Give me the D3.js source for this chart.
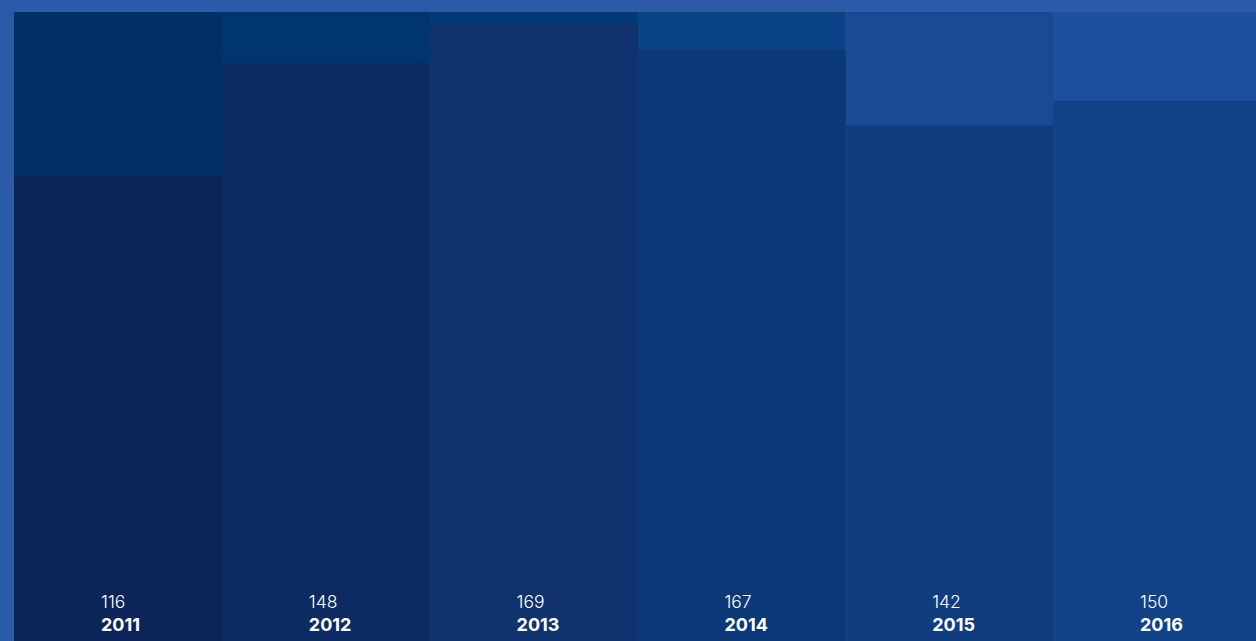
<!DOCTYPE html>
<html>
<head>
<meta charset="utf-8">
<script src="https://cdn.jsdelivr.net/npm/d3@7"></script>
<style>
    html, body { margin: 0; padding: 0; background: #2a5aa8; overflow: hidden; }
    svg { display: block; }
    text { font-family: Inter, "Noto Sans", sans-serif; fill: #fff; }
</style>
</head>
<body>
<svg id="chart" width="1256" height="641"></svg>
<script>
// Data
const years = ['2011', '2012', '2013', '2014', '2015', '2016'];
const totals = [116, 148, 169, 167, 142, 150];
// share of the column filled by the darker lower block (%)
const shares = [73.8, 91.9, 98.1, 94.0, 81.9, 85.9];
const topColors = ['#013065', '#003670', '#023a78', '#0a4286', '#1a4b92', '#1b519c'];
const baseColors = ['#0b2558', '#0b2b62', '#10336d', '#0b3877', '#0f3d80', '#124389'];

// Layout
const HEIGHT = 641;
const COLUMN_W = 207.8;   // last column runs off the right edge
const margin = { top: 12, bottom: 0, left: 14 };

const svg = d3.select('#chart');

const x = d3.scaleBand()
    .domain(years)
    .range([margin.left, margin.left + COLUMN_W * years.length])
    .padding(0);

const y = d3.scaleLinear()
    .domain([0, 100])
    .range([HEIGHT - margin.bottom, margin.top]);

const rows = years.map((year, i) => ({
    year,
    total: totals[i],
    share: shares[i],
    top: topColors[i],
    base: baseColors[i]
}));

// Full-height column (lighter top part)
svg.append('g')
    .attr('class', 'columns')
    .selectAll('rect')
    .data(rows)
    .enter().append('rect')
        .attr('x', (d) => x(d.year))
        .attr('y', y(100))
        .attr('width', x.bandwidth() + 0.5)
        .attr('height', y(0) - y(100))
        .attr('fill', (d) => d.top);

// Lower block
svg.append('g')
    .attr('class', 'bars')
    .selectAll('rect')
    .data(rows)
    .enter().append('rect')
        .attr('x', (d) => x(d.year))
        .attr('y', (d) => y(d.share))
        .attr('width', x.bandwidth() + 0.5)
        .attr('height', (d) => y(0) - y(d.share))
        .attr('fill', (d) => d.base);

// Labels
const labels = svg.append('g')
    .attr('class', 'labels')
    .selectAll('g')
    .data(rows)
    .enter().append('g')
        .attr('transform', (d) => 'translate(' + (x(d.year) + 87) + ',0)');

labels.append('text')
    .attr('y', 608)
    .attr('font-size', 17.5)
    .attr('font-weight', 300)
    .text((d) => d.total);

labels.append('text')
    .attr('y', 631)
    .attr('font-size', 18)
    .attr('font-weight', 700)
    .text((d) => d.year);
</script>
</body>
</html>
